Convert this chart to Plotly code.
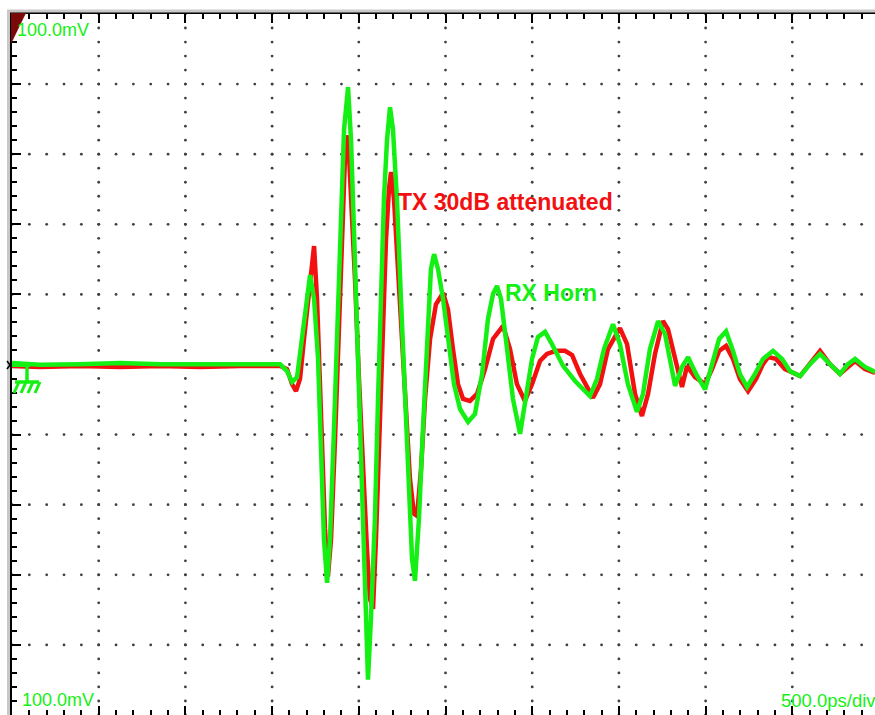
import plotly.graph_objects as go

# Time base 500 ps/div, vertical 20 mV/div (±100 mV full screen)
tx_time_ps = [0, 161, 392, 623, 854, 1084, 1315, 1546, 1586, 1615, 1638, 1661, 1684, 1707,
              1724, 1742, 1759, 1776, 1794, 1805, 1822, 1840, 1863, 1886, 1903, 1920, 1938,
              1955, 1978, 2001, 2024, 2047, 2064, 2082, 2099, 2122, 2140, 2157, 2174, 2186,
              2203, 2226, 2249, 2272, 2295, 2318, 2336, 2359, 2382, 2411, 2445, 2486, 2514,
              2543, 2572, 2601, 2641, 2682, 2728, 2774, 2832, 2872, 2912, 2958, 2999, 3045,
              3085, 3137, 3189, 3230, 3276, 3351, 3391, 3437, 3506, 3547, 3593, 3633, 3668,
              3708, 3754, 3783, 3824, 3864, 3893, 3939, 3997, 4037, 4078, 4118, 4158, 4198,
              4245, 4291, 4331, 4360, 4406, 4458, 4545, 4602, 4660, 4717, 4775, 4821, 4862,
              4919, 4977]
tx_mv = [-0.4, -0.7, -0.4, -0.7, -0.4, -0.7, -0.4, -0.4, -1.3, -5.6, -7.6, -4.1, 7.3, 18.7,
         27.2, 33.8, 18.7, -4.1, -26.9, -46.9, -60.5, -49.7, -21.2, 13.0, 41.5, 58.6, 65.4,
         50.0, 24.4, -4.1, -29.8, -52.6, -66.8, -69.7, -49.7, -15.5, 13.0, 35.8, 50.0, 54.9,
         47.2, 27.2, 4.4, -15.5, -32.6, -42.6, -43.2, -29.8, -9.8, 7.3, 17.2, 20.4, 15.8,
         4.4, -5.6, -9.8, -10.4, -8.4, -1.3, 7.3, 11.0, 4.4, -5.6, -10.4, -5.6, 1.0,
         3.0, 3.9, 3.9, 2.7, -2.7, -9.5, -5.6, 4.4, 10.4, 5.8, -8.4, -14.7, -8.4,
         3.0, 12.4, 10.1, 1.6, -6.4, -0.4, -3.6, -5.6, -1.3, 3.9, 5.3, 1.6, -4.1,
         -7.6, -4.1, 0.1, 2.1, 1.6, -1.3, -3.3, 0.1, 3.9, 0.1, -2.7, -0.7, 1.0,
         -1.3, -2.4]

rx_time_ps = [0, 161, 392, 623, 854, 1084, 1315, 1546, 1586, 1615, 1644, 1672, 1695, 1719,
              1742, 1765, 1782, 1799, 1817, 1834, 1857, 1880, 1897, 1915, 1938, 1955, 1972,
              1990, 2007, 2024, 2041, 2053, 2070, 2093, 2111, 2128, 2145, 2163, 2180, 2197,
              2220, 2243, 2266, 2289, 2307, 2324, 2347, 2370, 2393, 2416, 2434, 2457, 2486,
              2514, 2549, 2584, 2630, 2670, 2711, 2745, 2774, 2797, 2820, 2855, 2889, 2930,
              2964, 2999, 3033, 3074, 3114, 3178, 3247, 3333, 3374, 3414, 3466, 3506, 3552,
              3604, 3639, 3679, 3726, 3766, 3824, 3864, 3899, 3945, 3997, 4037, 4078, 4118,
              4158, 4198, 4239, 4285, 4331, 4389, 4441, 4487, 4545, 4602, 4660, 4717, 4775,
              4821, 4862, 4919, 4977]
rx_mv = [0.4, -0.1, 0.1, 0.4, 0.1, 0.1, 0.4, 0.1, -1.9, -5.0, -3.6, 7.3, 18.7, 25.5,
         18.7, 1.6, -24.1, -49.7, -62.3, -49.7, -18.4, 18.7, 47.2, 67.1, 79.1, 64.2, 38.6,
         10.1, -21.2, -49.7, -75.4, -89.9, -72.5, -44.0, -9.8, 21.5, 47.2, 64.2, 73.4, 67.1,
         47.2, 18.7, -9.8, -38.3, -55.4, -61.7, -44.0, -18.4, 7.3, 27.2, 31.5, 27.2, 18.7,
         7.3, -5.6, -12.7, -16.4, -14.1, -2.7, 13.0, 20.1, 22.4, 18.7, 4.4, -9.8, -19.8,
         -9.8, 1.6, 7.8, 9.3, 5.8, -0.4, -4.7, -9.0, -4.1, 4.4, 11.5, 5.8, -5.6,
         -13.5, -8.4, 4.4, 12.4, 8.7, -6.1, -0.7, 2.1, -2.7, -7.1, 0.1, 7.3, 9.5,
         3.9, -2.7, -6.4, -2.7, 1.6, 3.9, 1.6, -1.9, -3.3, 0.1, 3.0, 0.1, -2.7,
         0.1, 1.6, -0.7, -2.1]

trace_names = ["TX 30dB attenuated", "RX Horn"]
vert_label_top = "100.0mV"
vert_label_bottom = "100.0mV"
time_label = "500.0ps/div"

RED = "#f21010"
GREEN = "#14f014"

W, H = 875, 715
L, R, T, B = 12, 0, 14, 0
X_MAX = (W - L - R) * 500 / 86.7          # visible time span in ps
Y_MIN, Y_MAX = -100, 100


def px(x):
    return (x - L) / (W - L - R)


def py(y):
    return (H - B - y) / (H - T - B)


fig = go.Figure()

# dotted graticule: each division line is drawn as a row of dots at minor spacing
gx, gy = [], []
for k in range(1, 10):
    t = 500 * k
    v = Y_MIN
    while v <= Y_MAX:
        gx.append(t)
        gy.append(v)
        v += 4
for k in range(-4, 5):
    v = 20 * k
    t = 0
    while t <= X_MAX:
        gx.append(t)
        gy.append(v)
        t += 100
fig.add_trace(go.Scatter(x=gx, y=gy, mode="markers",
                         marker=dict(size=2.8, color="#404040", line=dict(width=0)),
                         hoverinfo="skip", showlegend=False))

fig.add_trace(go.Scatter(x=tx_time_ps, y=tx_mv, mode="lines", name=trace_names[0],
                         line=dict(color=RED, width=4.5), showlegend=False))
fig.add_trace(go.Scatter(x=rx_time_ps, y=rx_mv, mode="lines", name=trace_names[1],
                         line=dict(color=GREEN, width=4.5), showlegend=False))

annotations = [
    dict(x=2214, y=46.3, xref="x", yref="y", text="<b>" + trace_names[0] + "</b>",
         showarrow=False, xanchor="left", yanchor="middle",
         font=dict(family="Liberation Sans", size=23, color=RED)),
    dict(x=2832, y=20.4, xref="x", yref="y", text="<b>" + trace_names[1] + "</b>",
         showarrow=False, xanchor="left", yanchor="middle",
         font=dict(family="Liberation Sans", size=23, color=GREEN)),
    dict(x=px(15), y=py(30), xref="paper", yref="paper", text=vert_label_top,
         showarrow=False, xanchor="left", yanchor="middle",
         font=dict(family="Liberation Sans", size=18, color=GREEN)),
    dict(x=px(20), y=py(700), xref="paper", yref="paper", text=vert_label_bottom,
         showarrow=False, xanchor="left", yanchor="middle",
         font=dict(family="Liberation Sans", size=18, color=GREEN)),
    dict(x=px(878), y=py(700), xref="paper", yref="paper", text=time_label,
         showarrow=False, xanchor="right", yanchor="middle",
         font=dict(family="Liberation Sans", size=18.5, color=GREEN)),
]

shapes = [
    # light grey outer frame
    dict(type="line", xref="paper", yref="paper", x0=px(7), x1=px(W), y0=py(11), y1=py(11),
         line=dict(color="#c8c8c8", width=3), layer="above"),
    dict(type="line", xref="paper", yref="paper", x0=px(8.5), x1=px(8.5), y0=py(11), y1=py(H),
         line=dict(color="#c8c8c8", width=3), layer="above"),
    # channel marker in the top-left corner
    dict(type="path", xref="paper", yref="paper",
         path="M {} {} L {} {} L {} {} Z".format(px(11), py(13), px(26), py(13), px(11), py(44)),
         fillcolor="#7a0a0a", line=dict(width=0), layer="above"),
    # ground reference symbol
    dict(type="line", xref="paper", yref="paper", x0=px(12), x1=px(30), y0=py(365), y1=py(365),
         line=dict(color=GREEN, width=4), layer="above"),
    dict(type="line", xref="paper", yref="paper", x0=px(27), x1=px(27), y0=py(365), y1=py(382),
         line=dict(color=GREEN, width=3.5), layer="above"),
    dict(type="line", xref="paper", yref="paper", x0=px(15), x1=px(39), y0=py(382), y1=py(382),
         line=dict(color=GREEN, width=3.5), layer="above"),
]
for hx in (19, 26, 33, 40):
    shapes.append(dict(type="line", xref="paper", yref="paper",
                       x0=px(hx), x1=px(hx - 5), y0=py(382), y1=py(393),
                       line=dict(color=GREEN, width=3), layer="above"))
shapes.append(dict(type="line", xref="paper", yref="paper", x0=px(7), x1=px(10),
                   y0=py(361), y1=py(365), line=dict(color="black", width=1.5), layer="above"))
shapes.append(dict(type="line", xref="paper", yref="paper", x0=px(7), x1=px(10),
                   y0=py(369), y1=py(365), line=dict(color="black", width=1.5), layer="above"))

fig.update_layout(
    width=W, height=H,
    margin=dict(l=L, r=R, t=T, b=B, pad=0),
    paper_bgcolor="white", plot_bgcolor="white",
    showlegend=False,
    annotations=annotations,
    shapes=shapes,
    xaxis=dict(range=[0, X_MAX], showgrid=False, zeroline=False, showticklabels=False,
               showline=True, linecolor="black", linewidth=2, mirror="allticks",
               ticks="inside", tickcolor="black", ticklen=9, tickwidth=2,
               tick0=0, dtick=500,
               minor=dict(ticks="inside", ticklen=5, tickwidth=2, tickcolor="black",
                          dtick=100, showgrid=False)),
    yaxis=dict(range=[Y_MIN, Y_MAX], showgrid=False, zeroline=False, showticklabels=False,
               showline=True, linecolor="black", linewidth=2, mirror=False,
               ticks="inside", tickcolor="black", ticklen=9, tickwidth=2,
               tick0=0, dtick=20,
               minor=dict(ticks="inside", ticklen=5, tickwidth=2, tickcolor="black",
                          dtick=4, showgrid=False)),
)

fig.write_html("out.html")
